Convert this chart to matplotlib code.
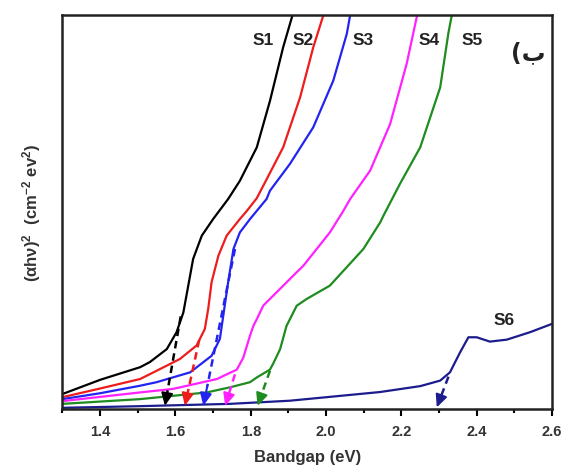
import matplotlib
matplotlib.use("Agg")
import matplotlib.pyplot as plt
from matplotlib.ticker import MultipleLocator, NullLocator

plt.rcParams['font.family'] = ['Liberation Sans', 'DejaVu Sans']
plt.rcParams['mathtext.fontset'] = 'custom'
plt.rcParams['mathtext.rm'] = 'Liberation Sans:bold'
plt.rcParams['mathtext.bf'] = 'Liberation Sans:bold'
plt.rcParams['mathtext.it'] = 'Liberation Sans:bold'

# ---- data (y in arbitrary units, 0..1) ----
s1_x = [1.30, 1.40, 1.506, 1.532, 1.577, 1.603, 1.621, 1.634, 1.647, 1.670, 1.700, 1.740, 1.771, 1.816, 1.851, 1.886, 1.911]
s1_y = [0.038, 0.074, 0.106, 0.119, 0.152, 0.195, 0.245, 0.313, 0.381, 0.440, 0.482, 0.533, 0.579, 0.664, 0.782, 0.918, 1.0]

s2_x = [1.30, 1.40, 1.506, 1.550, 1.612, 1.656, 1.678, 1.687, 1.696, 1.714, 1.736, 1.771, 1.789, 1.816, 1.840, 1.886, 1.931, 1.966, 1.993]
s2_y = [0.030, 0.052, 0.076, 0.097, 0.127, 0.161, 0.203, 0.254, 0.322, 0.389, 0.440, 0.482, 0.502, 0.535, 0.579, 0.664, 0.791, 0.918, 1.0]

s3_x = [1.30, 1.40, 1.506, 1.550, 1.639, 1.696, 1.718, 1.727, 1.740, 1.754, 1.771, 1.798, 1.842, 1.851, 1.904, 1.966, 2.019, 2.055, 2.064]
s3_y = [0.025, 0.040, 0.059, 0.068, 0.093, 0.135, 0.178, 0.237, 0.322, 0.406, 0.448, 0.482, 0.533, 0.554, 0.622, 0.715, 0.833, 0.952, 1.0]

s4_x = [1.30, 1.506, 1.594, 1.710, 1.763, 1.780, 1.798, 1.807, 1.816, 1.833, 1.842, 1.878, 1.904, 1.940, 2.010, 2.046, 2.064, 2.117, 2.170, 2.214, 2.242]
s4_y = [0.020, 0.042, 0.051, 0.076, 0.100, 0.130, 0.186, 0.211, 0.228, 0.262, 0.271, 0.305, 0.330, 0.364, 0.448, 0.503, 0.533, 0.605, 0.723, 0.876, 1.0]

s5_x = [1.30, 1.506, 1.683, 1.745, 1.798, 1.816, 1.851, 1.860, 1.878, 1.895, 1.904, 1.922, 1.948, 2.010, 2.099, 2.144, 2.152, 2.196, 2.250, 2.303, 2.325, 2.334]
s5_y = [0.013, 0.025, 0.042, 0.055, 0.068, 0.080, 0.100, 0.116, 0.152, 0.211, 0.228, 0.262, 0.279, 0.313, 0.406, 0.474, 0.490, 0.571, 0.664, 0.816, 0.955, 1.0]

s6_x = [1.30, 1.50, 1.745, 1.904, 2.143, 2.250, 2.303, 2.329, 2.356, 2.378, 2.400, 2.435, 2.480, 2.542, 2.600]
s6_y = [0.003, 0.007, 0.013, 0.021, 0.043, 0.058, 0.072, 0.093, 0.144, 0.182, 0.182, 0.171, 0.176, 0.195, 0.216]

series_names = ['S1', 'S2', 'S3', 'S4', 'S5', 'S6']
series_colors = ['#000000', '#ee1c1c', '#2424f0', '#ff22ff', '#1e8c1e', '#1c1c8c']

# tangent (extrapolation) lines: start point on curve and tip on the energy axis
tan_start_x = [1.614, 1.663, 1.758, 1.758, 1.851, 2.325]
tan_start_y = [0.235, 0.175, 0.406, 0.088, 0.097, 0.082]
tan_tip_x = [1.572, 1.625, 1.674, 1.732, 1.818, 2.294]
tan_tip_y = [0.008, 0.008, 0.008, 0.008, 0.008, 0.004]

# label positions
label_x = [1.833, 1.940, 2.099, 2.274, 2.388, 2.474]
label_y = [0.939, 0.939, 0.939, 0.937, 0.937, 0.226]

xticks = [1.4, 1.6, 1.8, 2.0, 2.2, 2.4, 2.6]

fig = plt.figure(figsize=(5.65, 4.77), dpi=100)
ax = fig.add_axes([0.1106, 0.1405, 0.8664, 0.826])

xs = [s1_x, s2_x, s3_x, s4_x, s5_x, s6_x]
ys = [s1_y, s2_y, s3_y, s4_y, s5_y, s6_y]
for x, y, c in zip(xs, ys, series_colors):
    ax.plot(x, y, color=c, lw=1.6, solid_capstyle='round', solid_joinstyle='round')

for sx, sy, tx, ty, c in zip(tan_start_x, tan_start_y, tan_tip_x, tan_tip_y, series_colors):
    fx = tx + (sx - tx) * 0.12
    fy = ty + (sy - ty) * 0.12
    ax.plot([sx, fx], [sy, fy], color=c, lw=1.8, ls=(0, (3, 2)))
    ax.annotate('', xy=(tx, ty), xytext=(fx, fy),
                arrowprops=dict(arrowstyle='-|>,head_length=0.75,head_width=0.35',
                                color=c, lw=1.5, shrinkA=0, shrinkB=0))

for name, lx, ly in zip(series_names, label_x, label_y):
    ax.text(lx, ly, name, ha='center', va='center', fontsize=12.5, fontweight='bold', color='#222222')

ax.text(2.536, 0.905, '(ب', ha='center', va='center', fontsize=17, fontweight='bold',
        family=['DejaVu Sans'], color='#222222')

ax.set_xlim(1.3, 2.6)
ax.set_ylim(0, 1)
ax.set_xticks(xticks)
ax.set_xticklabels([f'{t:.1f}' for t in xticks], fontsize=10.5, fontweight='bold', color='#333333')
ax.xaxis.set_minor_locator(MultipleLocator(0.1))
ax.yaxis.set_major_locator(NullLocator())
ax.tick_params(axis='x', which='major', direction='out', length=5, width=1.5, pad=6)
ax.tick_params(axis='x', which='minor', direction='out', length=3, width=1.5)
for sp in ax.spines.values():
    sp.set_linewidth(1.8)
    sp.set_color('#222222')

ax.set_xlabel('Bandgap (eV)', fontsize=12, fontweight='bold', color='#333333', labelpad=8)
ax.set_ylabel(r'$\mathbf{(\alpha h\nu)^2\ \ (cm^{-2}\ ev^2)}$', fontsize=12, color='#333333', labelpad=14)

fig.savefig('out.png', dpi=100)
